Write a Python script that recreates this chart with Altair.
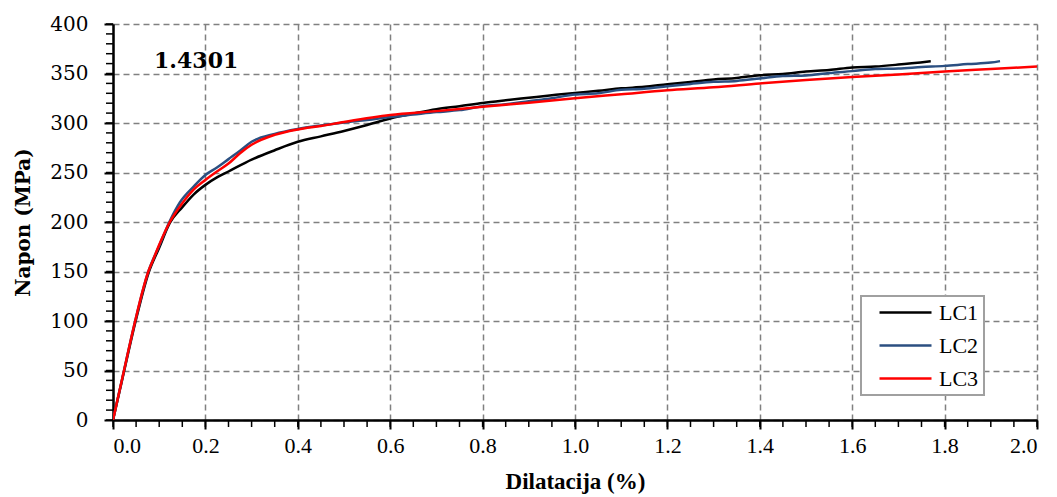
import altair as alt
import pandas as pd

# LC1 (black)
lc1_x = [0, 0.02, 0.048, 0.0765, 0.1, 0.123, 0.15, 0.175, 0.2, 0.225, 0.25, 0.3, 0.35, 0.4, 0.45,
         0.5, 0.55, 0.6, 0.65, 0.7, 0.75, 0.8, 0.85, 0.9, 0.95, 1.0, 1.05, 1.1, 1.15, 1.2, 1.25,
         1.3, 1.35, 1.4, 1.45, 1.5, 1.55, 1.6, 1.65, 1.7, 1.77]
lc1_y = [0, 41, 98, 148, 174, 199, 215, 228, 237.5, 245, 251, 263, 272.5, 281, 286.5, 292, 298,
         304.5, 309.5, 314, 317, 320.3, 323, 325.5, 328, 330.4, 332.5, 335, 336.5, 339.2, 341.5,
         344, 345.5, 348.3, 349.5, 352, 353.5, 356.1, 357, 359, 362.5]

# LC2 (blue)
lc2_x = [0, 0.02, 0.048, 0.0765, 0.1, 0.123, 0.145, 0.175, 0.2, 0.225, 0.25, 0.275, 0.3, 0.35,
         0.4, 0.45, 0.5, 0.55, 0.6, 0.65, 0.7, 0.75, 0.8, 0.85, 0.9, 0.95, 1.0, 1.05, 1.1, 1.15,
         1.2, 1.25, 1.3, 1.35, 1.4, 1.45, 1.5, 1.55, 1.6, 1.65, 1.7, 1.75, 1.8, 1.85, 1.9, 1.92]
lc2_y = [0, 42, 100, 150, 176, 201, 220, 236, 247.5, 255, 263.5, 272, 281, 289, 294, 297.5, 300.5,
         303, 306, 308.5, 311, 313, 317, 319, 322, 325, 328.8, 330, 333.5, 334.5, 337.2, 339.5,
         341.6, 342.5, 345, 347.5, 348, 350.5, 352.4, 354.5, 355, 356.5, 357.7, 359.5, 361, 362.5]

# LC3 (red)
lc3_x = [0, 0.02, 0.048, 0.065, 0.0765, 0.087, 0.1, 0.123, 0.15, 0.175, 0.2, 0.225, 0.25, 0.275,
         0.3, 0.35, 0.4, 0.45, 0.5, 0.6, 0.7, 0.8, 0.9, 1.0, 1.1, 1.2, 1.3, 1.4, 1.5, 1.6, 1.7,
         1.8, 1.9, 2.0]
lc3_y = [0, 42, 100, 132, 150, 162, 177, 200, 219, 233, 242.5, 251, 259, 269.5, 278, 288, 293.5,
         297, 301, 308, 312, 316.5, 320.5, 325, 329, 333, 336, 340, 343.5, 346.5, 349, 352,
         354.5, 357]

series = ["LC1", "LC2", "LC3"]
colors = ["#000000", "#2B4F81", "#FF0000"]

x_major = [round(i * 0.2, 1) for i in range(11)]
x_minor = [round(i * 0.05, 2) for i in range(41)]
y_major = list(range(0, 401, 50))
y_minor = list(range(0, 401, 10))

label_text = ["1.4301"]
label_x = [0.18]
label_y = [363]

X_TITLE = "Dilatacija (%)"
Y_TITLE = "Napon (MPa)"

SERIF = "'Liberation Serif', 'Times New Roman', 'DejaVu Serif', serif"

rows = []
for name, xs, ys in zip(series, [lc1_x, lc2_x, lc3_x], [lc1_y, lc2_y, lc3_y]):
    for i, (a, b) in enumerate(zip(xs, ys)):
        rows.append({"series": name, "strain": a, "stress": b, "order": i})
df = pd.DataFrame(rows)
lab = pd.DataFrame({"t": label_text, "strain": label_x, "stress": label_y})
xm = pd.DataFrame({"strain": x_minor})
ym = pd.DataFrame({"stress": y_minor})

xscale = alt.Scale(domain=[0, 2.0], nice=False, zero=False)
yscale = alt.Scale(domain=[0, 400], nice=False)
xaxis = alt.Axis(values=x_major, format=".1f", title=X_TITLE)
yaxis = alt.Axis(values=y_major, title=Y_TITLE)

lines = alt.Chart(df).mark_line(strokeWidth=2.5, clip=True, interpolate="monotone").encode(
    x=alt.X("strain:Q", scale=xscale, axis=xaxis),
    y=alt.Y("stress:Q", scale=yscale, axis=yaxis),
    color=alt.Color("series:N", scale=alt.Scale(domain=series, range=colors), legend=alt.Legend(
        title=None, orient="none", legendX=748, legendY=272,
        fillColor="#ffffff", strokeColor="#a0a0a0", padding=5,
        symbolType="M-2.6,0H2.6", symbolSize=400, symbolStrokeWidth=2.5,
        symbolOffset=28, labelOffset=22, rowPadding=10,
        labelExpr="datum.label + '\u00a0\u00a0\u00a0'",
        labelFont=SERIF, labelFontSize=22, labelColor="#000000")),
    order="order:Q",
)

xminor = alt.Chart(xm).mark_rule(color="#000000", strokeWidth=1.5).encode(
    x=alt.X("strain:Q", scale=xscale, axis=xaxis), y=alt.value(396), y2=alt.value(403))
yminor = alt.Chart(ym).mark_rule(color="#000000", strokeWidth=1.5).encode(
    y=alt.Y("stress:Q", scale=yscale, axis=yaxis), x=alt.value(-7), x2=alt.value(0))

text = alt.Chart(lab).mark_text(font="DejaVu Serif", fontSize=22, fontWeight="bold",
                                color="#000000").encode(
    x=alt.X("strain:Q", scale=xscale, axis=xaxis),
    y=alt.Y("stress:Q", scale=yscale, axis=yaxis), text="t:N")

chart = alt.layer(lines, xminor, yminor, text).properties(
    width=924, height=396, background="#ffffff",
    autosize=alt.AutoSizeParams(type="none"),
    padding={"left": 113, "top": 24, "right": 20, "bottom": 77},
).configure_view(stroke=None).configure_legend(strokeWidth=2).configure_axis(
    grid=True, gridColor="#808080", gridDash=[6, 4], gridWidth=1.5,
    domainColor="#000000", domainWidth=2.5, tickColor="#000000", tickWidth=2, tickSize=9,
    labelColor="#000000", titleColor="#000000", titleFontWeight="bold",
).configure_axisX(
    labelFont=SERIF, labelFontSize=22, labelPadding=6,
    titleFont=SERIF, titleFontSize=23, titlePadding=14,
).configure_axisY(
    labelFont="DejaVu Serif", labelFontSize=20, labelPadding=16,
    titleFont="DejaVu Serif", titleFontSize=20, titlePadding=16,
)

chart.save("out.html", embed_options={"renderer": "svg", "actions": False})
